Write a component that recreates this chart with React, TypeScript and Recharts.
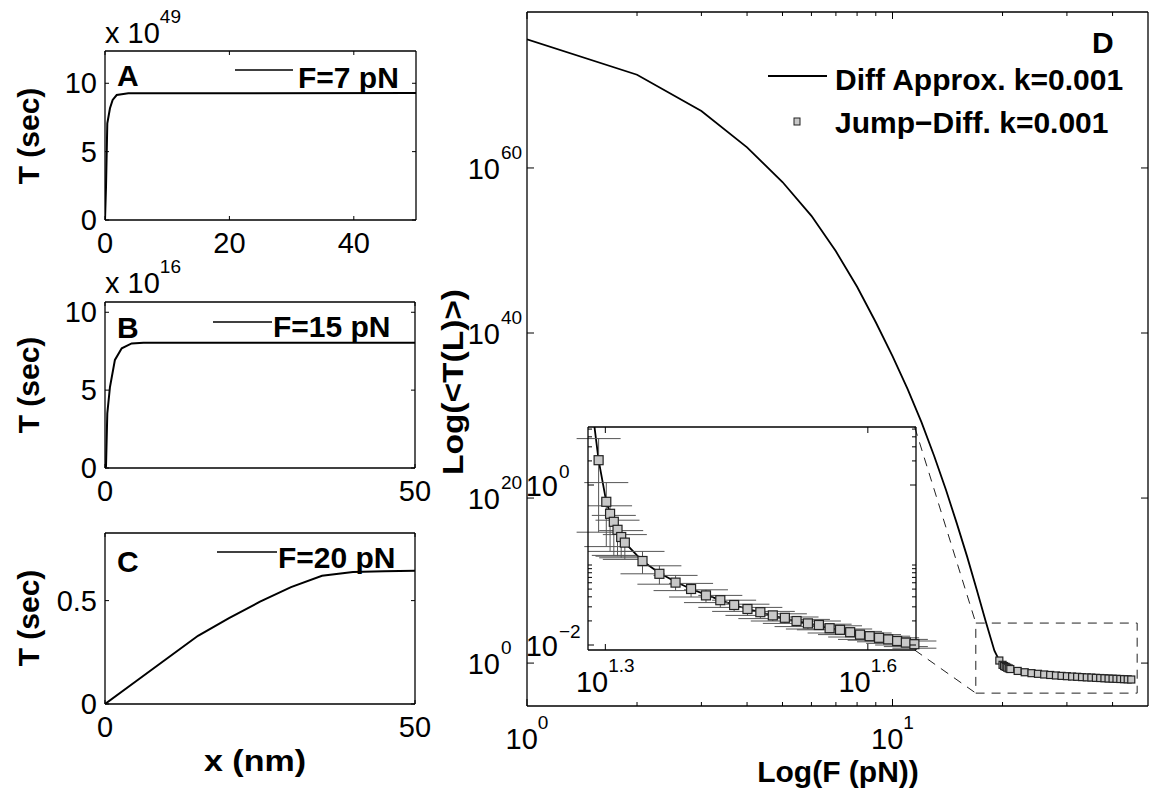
import React from "react";
import {
  ComposedChart,
  Line,
  Scatter,
  XAxis,
  YAxis,
  ErrorBar,
  ReferenceArea,
  ReferenceLine,
} from "recharts";

const W = 1151;
const H = 788;
const FONT = '"Liberation Sans", Arial, Helvetica, sans-serif';
const TICK_FS = 29;
const SUP_FS = 19;
const LABEL_FS = 30;

// ---- panel A: F = 7 pN (T in units of 1e49 s)
const aX = [0, 0.16, 0.37, 0.8, 1.23, 1.88, 2.95, 3.75, 50];
const aT = [0, 2.4, 7.07, 8.17, 8.78, 9.14, 9.22, 9.27, 9.28];
const aXTicks = [0, 20, 40];
const aYTicks = [0, 5, 10];

// ---- panel B: F = 15 pN (T in units of 1e16 s)
const bX = [0, 0.16, 0.37, 0.8, 1.6, 2.7, 4.3, 6.2, 50];
const bT = [0, 0.1, 3.5, 5.2, 6.94, 7.69, 8.0, 8.04, 8.05];
const bXTicks = [0, 50];
const bYTicks = [0, 5, 10];

// ---- panel C: F = 20 pN (T in s)
const cX = [0, 5, 10, 15, 20, 25, 30, 35, 40, 45, 50];
const cT = [0, 0.11, 0.22, 0.33, 0.415, 0.495, 0.565, 0.62, 0.638, 0.642, 0.645];
const cXTicks = [0, 50];
const cYTicks = [0, 0.5];

// ---- panel D: log10 <T(L)> vs F
const diffF = [
  1, 2, 3, 4, 5, 6, 7, 8, 9, 10, 11, 12, 13, 14, 15, 16, 17, 18, 19,
  19.6, 20, 20.2, 20.4, 20.6, 20.8, 21,
  22, 23, 24, 25, 26, 27, 28, 29, 30, 31, 32, 33, 34, 35, 36, 37, 38, 39, 40,
  41, 42, 43, 44, 45,
];
const diffLogT = [
  75.6, 71.3, 66.9, 62.5, 58.3, 54.2, 49.9, 45.6, 41.3, 37.2, 33.2, 29.2, 25.1,
  21.0, 16.9, 12.9, 8.9, 5.0, 1.5,
  0.31, -0.21, -0.35, -0.46, -0.56, -0.64, -0.72,
  -0.95, -1.1, -1.21, -1.3, -1.37, -1.44, -1.5, -1.55, -1.59, -1.63, -1.67,
  -1.7, -1.73, -1.76, -1.79, -1.81, -1.84, -1.86, -1.89,
  -1.91, -1.93, -1.95, -1.97, -1.99,
];
const jumpF = [
  19.6, 20, 20.2, 20.4, 20.6, 20.8, 21, 22, 23, 24, 25, 26, 27, 28, 29, 30, 31,
  32, 33, 34, 35, 36, 37, 38, 39, 40, 41, 42, 43, 44, 45,
];
const jumpLogT = [
  0.31, -0.21, -0.36, -0.46, -0.56, -0.65, -0.72, -0.95, -1.11, -1.22, -1.3,
  -1.38, -1.44, -1.5, -1.55, -1.59, -1.63, -1.66, -1.7, -1.73, -1.75, -1.79,
  -1.81, -1.84, -1.87, -1.89, -1.91, -1.93, -1.95, -1.97, -1.99,
];
const jumpErrDown = [
  0.9, 0.56, 0.47, 0.42, 0.33, 0.26, 0.21, 0.16, 0.13, 0.1, 0.1, 0.09, 0.09,
  0.08, 0.08, 0.08, 0.07, 0.07, 0.07, 0.07, 0.06, 0.06, 0.06, 0.06, 0.06, 0.05,
  0.05, 0.05, 0.05, 0.05, 0.05,
];
const jumpErrUp = [
  0.27, 0.24, 0.1, 0.08, 0.12, 0.08, 0.1, 0.12, 0.1, 0.09, 0.07, 0.07, 0.06,
  0.06, 0.06, 0.06, 0.05, 0.05, 0.05, 0.05, 0.05, 0.05, 0.05, 0.04, 0.04, 0.04,
  0.04, 0.04, 0.04, 0.04, 0.04,
];
const dXTicks = [1, 2, 3, 4, 5, 6, 7, 8, 9, 10, 20, 30, 40];
const dXMajor = [1, 10];
const dXExp = ["0", "1"];
const dYTicks = [0, 20, 40, 60];
// dashed zoom box and the connectors to the inset (F, log10 T)
const zoomBoxF = [16.9, 46.7];
const zoomBoxLogT = [-3.64, 4.85];
const insetCornerF = 11.5;
const insetCornerLogT = [28.6, 1.58];

// inset
const insetXTicks = [19.95, 39.81];
const insetXExp = ["1.3", "1.6"];
const insetYMajor = [0, -2];
const insetYExp = ["0", "\u22122"];
const insetYMinor = [
  0.699, 0.602, 0.477, 0.301, -1, -1.046, -1.097, -1.155, -1.222, -1.301,
  -1.398, -1.523, -1.699,
];

const aData = aX.map((x, i) => ({ x, y: aT[i] }));
const bData = bX.map((x, i) => ({ x, y: bT[i] }));
const cData = cX.map((x, i) => ({ x, y: cT[i] }));
const diffData = diffF.map((x, i) => ({ x, y: diffLogT[i] }));
const jumpData = jumpF.map((x, i) => ({
  x,
  y: jumpLogT[i],
  err: [jumpErrDown[i], jumpErrUp[i]],
}));

const AXIS_LINE = { stroke: "#000", strokeWidth: 1.3 };

type Side = "bottom" | "top" | "left" | "right";
type LabelFn = (v: number, x: number, y: number) => React.ReactNode;

function tickRenderer(
  side: Side,
  major: number[],
  majorLen: number,
  minorLen: number,
  label?: LabelFn
) {
  return (props: any) => {
    const { x, y, payload } = props;
    const v = payload.value;
    const isMajor = major.some((m) => Math.abs(m - v) < 1e-9);
    const len = isMajor ? majorLen : minorLen;
    let ln;
    if (side === "bottom") ln = <line x1={x} y1={y} x2={x} y2={y - len} />;
    else if (side === "top") ln = <line x1={x} y1={y} x2={x} y2={y + len} />;
    else if (side === "left") ln = <line x1={x} y1={y} x2={x + len} y2={y} />;
    else ln = <line x1={x} y1={y} x2={x - len} y2={y} />;
    return (
      <g stroke="#000" strokeWidth={1}>
        {ln}
        {isMajor && label ? (
          <g stroke="none" fill="#000" fontFamily={FONT}>
            {label(v, x, y)}
          </g>
        ) : null}
      </g>
    );
  };
}

const numLeft: LabelFn = (v, x, y) => (
  <text x={x - 8} y={y + 10} textAnchor="end" fontSize={TICK_FS}>
    {String(v)}
  </text>
);
const numBottom: LabelFn = (v, x, y) => (
  <text x={x} y={y + 33} textAnchor="middle" fontSize={TICK_FS}>
    {String(v)}
  </text>
);
function powLeft(gap: number, raise: number, exp: (v: number) => string): LabelFn {
  return (v, x, y) => (
    <>
      <text x={x - gap} y={y + 11} textAnchor="end" fontSize={TICK_FS}>
        10
      </text>
      <text x={x - gap + 1} y={y + 11 - raise} fontSize={SUP_FS}>
        {exp(v)}
      </text>
    </>
  );
}
function powBottom(gap: number, exp: (v: number) => string): LabelFn {
  return (v, x, y) => (
    <text x={x} y={y + gap} textAnchor="middle" fontSize={TICK_FS}>
      10
      <tspan dy={-20} fontSize={SUP_FS}>
        {exp(v)}
      </tspan>
    </text>
  );
}

type Box = { l: number; t: number; r: number; b: number };

// axes are 1px thick so that their line sits exactly on the plot box edge
function frameAxes(o: {
  log?: boolean;
  xDomain: number[];
  yDomain: number[];
  xTicks: number[];
  yTicks: number[];
  xMajor: number[];
  yMajor: number[];
  majorLen: number;
  minorLen: number;
  xLabel: LabelFn;
  yLabel: LabelFn;
  overflow: boolean;
}) {
  const scale = o.log ? "log" : "linear";
  return [
    <XAxis
      key="xb"
      xAxisId="b"
      dataKey="x"
      type="number"
      scale={scale}
      domain={o.xDomain}
      ticks={o.xTicks}
      interval={0}
      tickSize={0}
      tickMargin={0}
      tickLine={false}
      height={1}
      axisLine={AXIS_LINE}
      allowDataOverflow={o.overflow}
      tick={tickRenderer("bottom", o.xMajor, o.majorLen, o.minorLen, o.xLabel)}
    />,
    <XAxis
      key="xt"
      xAxisId="t"
      orientation="top"
      dataKey="x"
      type="number"
      scale={scale}
      domain={o.xDomain}
      ticks={o.xTicks}
      interval={0}
      tickSize={0}
      tickMargin={0}
      tickLine={false}
      height={1}
      axisLine={AXIS_LINE}
      allowDataOverflow
      tick={tickRenderer("top", o.xMajor, o.majorLen, o.minorLen)}
    />,
    <YAxis
      key="yl"
      yAxisId="l"
      dataKey="y"
      type="number"
      domain={o.yDomain}
      ticks={o.yTicks}
      interval={0}
      tickSize={0}
      tickMargin={0}
      tickLine={false}
      width={1}
      axisLine={AXIS_LINE}
      allowDataOverflow={o.overflow}
      tick={tickRenderer("left", o.yMajor, o.majorLen, o.minorLen, o.yLabel)}
    />,
    <YAxis
      key="yr"
      yAxisId="r"
      orientation="right"
      dataKey="y"
      type="number"
      domain={o.yDomain}
      ticks={o.yTicks}
      interval={0}
      tickSize={0}
      tickMargin={0}
      tickLine={false}
      width={1}
      axisLine={AXIS_LINE}
      allowDataOverflow
      tick={tickRenderer("right", o.yMajor, o.majorLen, o.minorLen)}
    />,
  ];
}

function Layer({ box, children }: { box: Box; children: React.ReactNode }) {
  return (
    <div style={{ position: "absolute", left: 0, top: 0 }}>
      <ComposedChart
        width={W}
        height={H}
        margin={{
          top: box.t - 1,
          left: box.l - 1,
          right: W - box.r - 1,
          bottom: H - box.b - 1,
        }}
      >
        {children}
      </ComposedChart>
    </div>
  );
}

function LinearPanel({
  box,
  data,
  yMax,
  xTicks,
  yTicks,
}: {
  box: Box;
  data: { x: number; y: number }[];
  yMax: number;
  xTicks: number[];
  yTicks: number[];
}) {
  return (
    <Layer box={box}>
      {frameAxes({
        xDomain: [0, 50],
        yDomain: [0, yMax],
        xTicks,
        yTicks,
        xMajor: xTicks,
        yMajor: yTicks,
        majorLen: 4,
        minorLen: 4,
        xLabel: numBottom,
        yLabel: numLeft,
        overflow: true,
      })}
      <Line
        data={data}
        dataKey="y"
        xAxisId="b"
        yAxisId="l"
        type="linear"
        stroke="#000"
        strokeWidth={2}
        dot={false}
        isAnimationActive={false}
      />
    </Layer>
  );
}

const square = (size: number) => (p: any) => (
  <rect
    x={p.cx - size / 2}
    y={p.cy - size / 2}
    width={size}
    height={size}
    fill="#c8c8c8"
    stroke="#222"
    strokeWidth={1.2}
  />
);

function MainPanel() {
  const box = { l: 527, t: 12, r: 1148, b: 706 };
  const dash = "9 7";
  return (
    <Layer box={box}>
      {frameAxes({
        log: true,
        xDomain: [1, 50],
        yDomain: [-5.2, 78.9],
        xTicks: dXTicks,
        yTicks: dYTicks,
        xMajor: dXMajor,
        yMajor: dYTicks,
        majorLen: 7,
        minorLen: 4,
        xLabel: powBottom(43, (v) => dXExp[dXMajor.indexOf(v)]),
        yLabel: powLeft(27, 20, (v) => String(v)),
        overflow: true,
      })}
      <ReferenceArea
        xAxisId="b"
        yAxisId="l"
        x1={zoomBoxF[0]}
        x2={zoomBoxF[1]}
        y1={zoomBoxLogT[0]}
        y2={zoomBoxLogT[1]}
        fill="none"
        stroke="#222"
        strokeWidth={1}
        strokeDasharray={dash}
      />
      <ReferenceLine
        xAxisId="b"
        yAxisId="l"
        segment={[
          { x: insetCornerF, y: insetCornerLogT[0] },
          { x: zoomBoxF[0], y: zoomBoxLogT[1] },
        ]}
        stroke="#222"
        strokeWidth={1}
        strokeDasharray={dash}
      />
      <ReferenceLine
        xAxisId="b"
        yAxisId="l"
        segment={[
          { x: insetCornerF, y: insetCornerLogT[1] },
          { x: zoomBoxF[0], y: zoomBoxLogT[0] },
        ]}
        stroke="#222"
        strokeWidth={1}
        strokeDasharray={dash}
      />
      <Line
        data={diffData}
        dataKey="y"
        xAxisId="b"
        yAxisId="l"
        type="linear"
        stroke="#000"
        strokeWidth={1.8}
        dot={false}
        isAnimationActive={false}
      />
      <Scatter
        data={jumpData}
        xAxisId="b"
        yAxisId="l"
        shape={square(7)}
        isAnimationActive={false}
      />
    </Layer>
  );
}

function InsetPanel() {
  const box = { l: 588, t: 427, r: 916, b: 650 };
  const xDomain = [19.06, 45.19];
  const yDomain = [-2.0625, 0.725];
  return (
    <Layer box={box}>
      {frameAxes({
        log: true,
        xDomain,
        yDomain,
        xTicks: insetXTicks,
        yTicks: [...insetYMajor, ...insetYMinor],
        xMajor: insetXTicks,
        yMajor: insetYMajor,
        majorLen: 6,
        minorLen: 4,
        xLabel: powBottom(42, (v) => insetXExp[insetXTicks.indexOf(v)]),
        yLabel: powLeft(30, 18, (v) => insetYExp[insetYMajor.indexOf(v)]),
        overflow: false,
      })}
      {/* zero-size hidden axes: the diffusion curve is clipped to the inset box */}
      <XAxis
        xAxisId="clip"
        dataKey="x"
        type="number"
        scale="log"
        domain={xDomain}
        allowDataOverflow
        height={0}
        hide
      />
      <YAxis
        yAxisId="clip"
        dataKey="y"
        type="number"
        domain={yDomain}
        allowDataOverflow
        width={0}
        hide
      />
      <Line
        data={diffData}
        dataKey="y"
        xAxisId="clip"
        yAxisId="clip"
        type="linear"
        stroke="#000"
        strokeWidth={1.8}
        dot={false}
        isAnimationActive={false}
      />
      <Scatter
        data={jumpData}
        xAxisId="b"
        yAxisId="l"
        shape={square(9)}
        isAnimationActive={false}
      >
        <ErrorBar
          dataKey="err"
          direction="y"
          width={22}
          stroke="#555"
          strokeWidth={1}
          isAnimationActive={false}
        />
      </Scatter>
    </Layer>
  );
}

function Annotations() {
  const bold = { fontFamily: FONT, fontWeight: 700, fontSize: LABEL_FS, fill: "#000" };
  const reg = { fontFamily: FONT, fontSize: TICK_FS, fill: "#000" };
  const vLabel = (x: number, y: number, s: string, len?: number) => (
    <text
      transform={`translate(${x},${y}) rotate(-90)`}
      textAnchor="middle"
      dominantBaseline="central"
      textLength={len}
      lengthAdjust={len ? "spacingAndGlyphs" : undefined}
      {...bold}
    >
      {s}
    </text>
  );
  return (
    <svg
      width={W}
      height={H}
      style={{ position: "absolute", left: 0, top: 0, pointerEvents: "none" }}
    >
      {/* exponent multipliers */}
      <text x={105} y={43} {...reg}>
        x 10
        <tspan dy={-20} fontSize={SUP_FS}>
          49
        </tspan>
      </text>
      <text x={105} y={293} {...reg}>
        x 10
        <tspan dy={-20} fontSize={SUP_FS}>
          16
        </tspan>
      </text>

      {/* panel letters */}
      <text x={117} y={86} {...bold}>A</text>
      <text x={117} y={338} {...bold}>B</text>
      <text x={117} y={572} {...bold}>C</text>
      <text x={1092} y={53} {...bold}>D</text>

      {/* legends of A, B, C */}
      <line x1={235} y1={70} x2={293} y2={70} stroke="#000" strokeWidth={1.5} />
      <text x={298} y={88} {...bold}>F=7 pN</text>
      <line x1={213} y1={322} x2={272} y2={322} stroke="#000" strokeWidth={1.5} />
      <text x={273} y={337} {...bold}>F=15 pN</text>
      <line x1={217} y1={552} x2={277} y2={552} stroke="#000" strokeWidth={1.5} />
      <text x={278} y={568} {...bold}>F=20 pN</text>

      {/* legend of D */}
      <line x1={768} y1={76} x2={827} y2={76} stroke="#000" strokeWidth={2} />
      <text x={835} y={90} {...bold}>Diff Approx. k=0.001</text>
      <rect x={794} y={118} width={6} height={7} fill="#c8c8c8" stroke="#222" strokeWidth={1} />
      <text x={835} y={133} {...bold}>Jump{"\u2212"}Diff. k=0.001</text>

      {/* axis titles */}
      {vLabel(28, 136, "T (sec)")}
      {vLabel(28, 385, "T (sec)")}
      {vLabel(28, 618, "T (sec)")}
      <text x={255} y={771} textAnchor="middle" textLength={102} lengthAdjust="spacingAndGlyphs" {...bold}>x (nm)</text>
      <text x={838} y={782} textAnchor="middle" {...bold}>Log(F (pN))</text>
      {vLabel(452, 382, "Log(<T(L)>)", 186)}
    </svg>
  );
}

export default function App() {
  return (
    <div
      style={{
        position: "absolute",
        left: 0,
        top: 0,
        width: W,
        height: H,
        background: "#fff",
        fontFamily: FONT,
        overflow: "hidden",
      }}
    >
      <LinearPanel box={{ l: 105, t: 51, r: 416, b: 220 }} data={aData} yMax={12.36} xTicks={aXTicks} yTicks={aYTicks} />
      <LinearPanel box={{ l: 105, t: 302, r: 415, b: 468 }} data={bData} yMax={10.66} xTicks={bXTicks} yTicks={bYTicks} />
      <LinearPanel box={{ l: 105, t: 533, r: 415, b: 704 }} data={cData} yMax={0.827} xTicks={cXTicks} yTicks={cYTicks} />
      <MainPanel />
      <InsetPanel />
      <Annotations />
    </div>
  );
}
